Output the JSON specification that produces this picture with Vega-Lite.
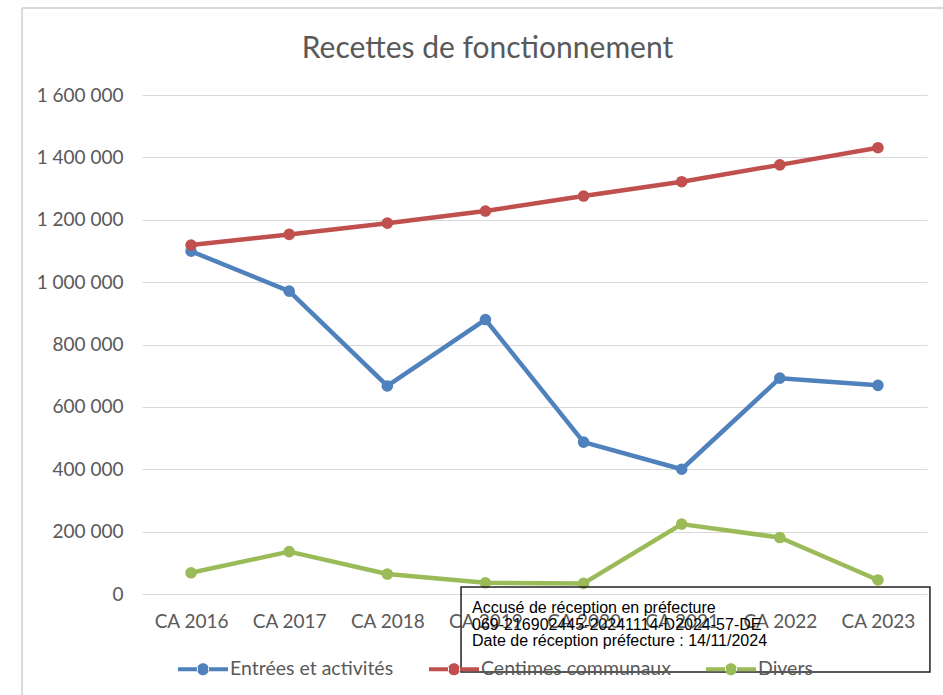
{
  "$schema": "https://vega.github.io/schema/vega-lite/v6.json",
  "width": 785,
  "height": 499,
  "autosize": {"type": "none"},
  "padding": {"left": 142, "top": 95, "right": 16, "bottom": 101},
  "background": "white",
  "config": {
    "locale": {"number": {"decimal": ",", "thousands": " ", "grouping": [3], "currency": ["", " €"]}},
    "view": {"stroke": null},
    "font": "Lato"
  },
  "title": {
    "text": "Recettes de fonctionnement",
    "font": "Lato",
    "fontSize": 30,
    "fontWeight": "normal",
    "color": "#595959",
    "anchor": "middle",
    "dx": -47,
    "offset": -57
  },
  "datasets": {
    "series": [
      {"annee": "CA 2016", "serie": "Entrées et activités", "valeur": 1099000},
      {"annee": "CA 2017", "serie": "Entrées et activités", "valeur": 971000},
      {"annee": "CA 2018", "serie": "Entrées et activités", "valeur": 667000},
      {"annee": "CA 2019", "serie": "Entrées et activités", "valeur": 880000},
      {"annee": "CA 2020", "serie": "Entrées et activités", "valeur": 487000},
      {"annee": "CA 2021", "serie": "Entrées et activités", "valeur": 400000},
      {"annee": "CA 2022", "serie": "Entrées et activités", "valeur": 692000},
      {"annee": "CA 2023", "serie": "Entrées et activités", "valeur": 669000},
      {"annee": "CA 2016", "serie": "Centimes communaux", "valeur": 1119000},
      {"annee": "CA 2017", "serie": "Centimes communaux", "valeur": 1153000},
      {"annee": "CA 2018", "serie": "Centimes communaux", "valeur": 1189000},
      {"annee": "CA 2019", "serie": "Centimes communaux", "valeur": 1228000},
      {"annee": "CA 2020", "serie": "Centimes communaux", "valeur": 1276000},
      {"annee": "CA 2021", "serie": "Centimes communaux", "valeur": 1322000},
      {"annee": "CA 2022", "serie": "Centimes communaux", "valeur": 1376000},
      {"annee": "CA 2023", "serie": "Centimes communaux", "valeur": 1431000},
      {"annee": "CA 2016", "serie": "Divers", "valeur": 68000},
      {"annee": "CA 2017", "serie": "Divers", "valeur": 136000},
      {"annee": "CA 2018", "serie": "Divers", "valeur": 64000},
      {"annee": "CA 2019", "serie": "Divers", "valeur": 36000},
      {"annee": "CA 2020", "serie": "Divers", "valeur": 34000},
      {"annee": "CA 2021", "serie": "Divers", "valeur": 224000},
      {"annee": "CA 2022", "serie": "Divers", "valeur": 181000},
      {"annee": "CA 2023", "serie": "Divers", "valeur": 45000}
    ],
    "annotation": [
      {"ligne1": "Accusé de réception en préfecture", "ligne2": "069-216902445-20241114-D2024-57-DE", "ligne3": "Date de réception préfecture : 14/11/2024"}
    ]
  },
  "layer": [
    {
      "data": {"name": "series"},
      "mark": {"type": "line", "strokeWidth": 4.5, "strokeJoin": "round", "strokeCap": "round"},
      "encoding": {
        "x": {
          "field": "annee",
          "type": "nominal",
          "sort": ["CA 2016", "CA 2017", "CA 2018", "CA 2019", "CA 2020", "CA 2021", "CA 2022", "CA 2023"],
          "scale": {"type": "point", "padding": 0.5},
          "axis": {
            "title": null,
            "labelAngle": 0,
            "labelAlign": "center",
            "domain": false,
            "ticks": false,
            "tickSize": 0,
            "grid": false,
            "labelPadding": 18,
            "labelFontSize": 19,
            "labelColor": "#595959",
            "labelFont": "Lato"
          }
        },
        "y": {
          "field": "valeur",
          "type": "quantitative",
          "scale": {"domain": [0, 1600000], "nice": false, "zero": true},
          "axis": {
            "title": null,
            "values": [0, 200000, 400000, 600000, 800000, 1000000, 1200000, 1400000, 1600000],
            "format": ",d",
            "domain": false,
            "ticks": false,
            "tickSize": 0,
            "grid": true,
            "gridColor": "#d9d9d9",
            "gridWidth": 1.2,
            "labelPadding": 19,
            "labelFontSize": 19,
            "labelColor": "#595959",
            "labelFont": "Lato"
          }
        },
        "color": {
          "field": "serie",
          "type": "nominal",
          "scale": {
            "domain": ["Entrées et activités", "Centimes communaux", "Divers"],
            "range": ["#4f81bd", "#c0504d", "#9bbb59"]
          },
          "legend": {
            "title": null,
            "orient": "none",
            "legendX": 36,
            "legendY": 549,
            "direction": "horizontal",
            "symbolType": "M-1,-0.08L-0.2,-0.08L-0.2,0.08L-1,0.08Z M0.2,-0.08L1,-0.08L1,0.08L0.2,0.08Z M-0.24,0A0.24,0.24 0 1,0 0.24,0A0.24,0.24 0 1,0 -0.24,0Z",
            "symbolSize": 2500,
            "symbolStrokeWidth": 0,
            "symbolOpacity": 1,
            "labelFontSize": 19.5,
            "labelFont": "Lato",
            "labelColor": "#595959",
            "labelOffset": 2,
            "labelLimit": 400,
            "columnPadding": 35,
            "padding": 0
          }
        }
      }
    },
    {
      "data": {"name": "series"},
      "mark": {"type": "point", "filled": true, "size": 135, "opacity": 1},
      "encoding": {
        "x": {"field": "annee", "type": "nominal", "sort": ["CA 2016", "CA 2017", "CA 2018", "CA 2019", "CA 2020", "CA 2021", "CA 2022", "CA 2023"]},
        "y": {"field": "valeur", "type": "quantitative"},
        "color": {"field": "serie", "type": "nominal"}
      }
    },
    {
      "data": {"name": "annotation"},
      "mark": {"type": "rule", "color": "#d9d9d9", "strokeWidth": 2, "xOffset": -169, "x2Offset": 80},
      "encoding": {
        "x": {"datum": "CA 2016", "type": "nominal"},
        "x2": {"datum": "CA 2023"},
        "y": {"datum": 1878960, "type": "quantitative"}
      }
    },
    {
      "data": {"name": "annotation"},
      "mark": {"type": "rule", "color": "#d9d9d9", "strokeWidth": 2, "xOffset": -169},
      "encoding": {
        "x": {"datum": "CA 2016", "type": "nominal"},
        "y": {"datum": 1878960, "type": "quantitative"},
        "y2": {"datum": -340000}
      }
    },
    {
      "data": {"name": "annotation"},
      "mark": {
        "type": "rect",
        "fill": "white",
        "fillOpacity": 0,
        "stroke": "#222222",
        "strokeWidth": 1.5,
        "xOffset": -24.4,
        "x2Offset": 52
      },
      "encoding": {
        "x": {"datum": "CA 2019", "type": "nominal"},
        "x2": {"datum": "CA 2023"},
        "y": {"datum": 22445, "type": "quantitative"},
        "y2": {"datum": -250100}
      }
    },
    {
      "data": {"name": "annotation"},
      "mark": {
        "type": "text",
        "align": "left",
        "baseline": "middle",
        "font": "Liberation Sans",
        "fontSize": 16,
        "lineHeight": 16.5,
        "color": "black",
        "xOffset": -13.4
      },
      "encoding": {
        "x": {"datum": "CA 2019", "type": "nominal"},
        "y": {"datum": -44900, "type": "quantitative"},
        "text": {"value": ["Accusé de réception en préfecture", "069-216902445-20241114-D2024-57-DE", "Date de réception préfecture : 14/11/2024"]}
      }
    }
  ]
}
